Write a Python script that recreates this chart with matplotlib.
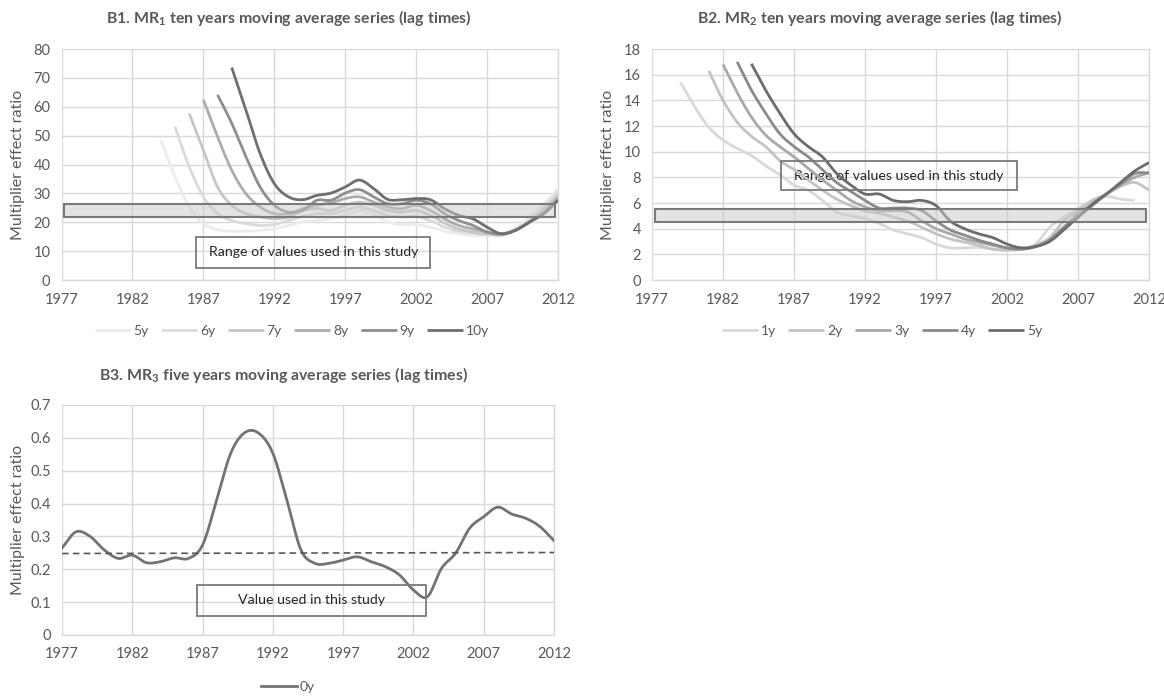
import numpy as np
import matplotlib
matplotlib.use("Agg")
import matplotlib.pyplot as plt
from matplotlib.patches import Rectangle

plt.rcParams['font.family'] = ['Lato', 'DejaVu Sans']
plt.rcParams['mathtext.fontset'] = 'custom'
plt.rcParams['mathtext.rm'] = 'Lato'
plt.rcParams['mathtext.bf'] = 'Lato:bold'
plt.rcParams['mathtext.it'] = 'Lato:italic'

# ---------------- data ----------------
years = list(range(1977, 2013))

# B1: MR1 ten-year moving average series (lag times); each starts later
b1_5y_start, b1_5y = 1984, [48.5, 35.7, 25.3, 19.5, 17.4, 16.9, 16.9, 17.2, 17.7, 18.9, 20.1, 20.6, 21.2,
                            22.4, 24.1, 23.0, 20.1, 19.2, 19.2, 18.3, 16.9, 16.0, 15.4, 15.4, 16.0, 18.1,
                            21.8, 26.4, 31.7]
b1_6y_start, b1_6y = 1985, [53.1, 39.2, 28.8, 23.0, 20.6, 19.5, 18.9, 19.2, 20.6, 22.0, 23.0, 23.0, 24.1,
                            25.3, 24.1, 22.4, 21.8, 22.0, 20.6, 18.3, 16.9, 16.2, 15.8, 15.4, 17.4, 20.6,
                            25.3, 30.5]
b1_7y_start, b1_7y = 1986, [57.7, 45.0, 32.2, 25.9, 23.0, 21.8, 21.2, 21.8, 24.1, 24.7, 24.1, 25.9, 27.0,
                            25.9, 24.1, 23.5, 24.1, 22.4, 19.7, 17.7, 16.6, 16.0, 15.8, 17.4, 20.4, 24.3,
                            29.3]
b1_8y_start, b1_8y = 1987, [62.4, 49.6, 38.0, 29.9, 25.3, 23.0, 23.0, 24.7, 25.9, 26.7, 28.2, 28.8, 27.0,
                            25.3, 24.7, 25.9, 24.1, 21.2, 18.9, 17.7, 16.6, 15.8, 17.2, 20.1, 23.5, 28.2]
b1_9y_start, b1_9y = 1988, [64.1, 54.3, 42.7, 32.2, 25.9, 23.5, 24.1, 27.6, 27.6, 30.1, 31.3, 28.8, 26.4,
                            26.4, 27.6, 26.4, 23.0, 20.6, 18.9, 16.6, 16.0, 17.2, 20.1, 23.0, 27.6]
b1_10y_start, b1_10y = 1989, [73.6, 58.9, 43.8, 33.4, 28.8, 27.8, 29.3, 30.1, 32.2, 34.6, 31.7, 27.9, 27.8,
                              28.2, 27.8, 24.7, 22.4, 21.2, 18.3, 16.0, 17.2, 20.1, 23.0, 27.6]
b1_labels = ['5y', '6y', '7y', '8y', '9y', '10y']
b1_band = (21.8, 26.3)

# B2: MR2 ten-year moving average series (lag times)
b2_1y_start, b2_1y = 1979, [15.4, 13.5, 11.9, 10.9, 10.25, 9.7, 8.9, 8.2, 7.4, 7.0, 6.2, 5.3, 5.0, 4.8,
                            4.4, 3.9, 3.6, 3.3, 2.8, 2.5, 2.5, 2.55, 2.4, 2.3, 2.4, 2.8, 4.1, 4.9, 5.6,
                            6.1, 6.5, 6.3, 6.2]
b2_2y_start, b2_2y = 1981, [16.3, 14.0, 12.3, 11.2, 10.4, 9.3, 8.6, 7.8, 7.0, 6.3, 5.8, 5.4, 5.2, 4.9,
                            4.6, 4.1, 3.6, 3.2, 2.95, 2.7, 2.4, 2.35, 2.4, 2.7, 3.3, 4.6, 5.4, 6.2, 6.7,
                            7.3, 7.6, 7.0]
b2_3y_start, b2_3y = 1982, [16.8, 14.6, 12.7, 11.3, 10.4, 9.6, 8.7, 7.8, 7.0, 6.2, 5.7, 5.4, 5.4, 5.3,
                            4.6, 4.0, 3.6, 3.2, 2.95, 2.7, 2.5, 2.5, 2.6, 3.1, 4.1, 5.2, 5.9, 6.7, 7.4,
                            8.0, 8.35]
b2_4y_start, b2_4y = 1983, [17.0, 14.8, 13.0, 11.4, 10.4, 9.6, 8.6, 7.6, 6.9, 6.2, 5.6, 5.6, 5.6, 5.4,
                            4.6, 3.9, 3.5, 3.1, 2.8, 2.5, 2.4, 2.6, 3.1, 4.1, 4.9, 5.8, 6.7, 7.5, 8.3,
                            8.35]
b2_5y_start, b2_5y = 1984, [16.85, 14.8, 13.0, 11.4, 10.4, 9.6, 8.3, 7.4, 6.7, 6.7, 6.2, 6.1, 6.2, 5.8,
                            4.6, 4.0, 3.6, 3.3, 2.8, 2.5, 2.6, 3.0, 3.9, 4.9, 5.9, 6.7, 7.6, 8.5, 9.15]
b2_labels = ['1y', '2y', '3y', '4y', '5y']
b2_band = (4.5, 5.56)

# B3: MR3 five-year moving average series
b3_0y = [0.265, 0.314, 0.300, 0.259, 0.233, 0.243, 0.220, 0.223, 0.235, 0.233, 0.274, 0.410,
         0.553, 0.616, 0.614, 0.553, 0.410, 0.259, 0.218, 0.218, 0.228, 0.238, 0.223, 0.208,
         0.183, 0.137, 0.117, 0.203, 0.249, 0.325, 0.360, 0.389, 0.368, 0.355, 0.330, 0.287]
b3_ref_years = [1977, 2012]
b3_ref_vals = [0.248, 0.251]

# ---------------- styling ----------------
W, H = 1164, 696
fig = plt.figure(figsize=(W / 100, H / 100), dpi=100)
fig.patch.set_facecolor('white')

TXT = '#595959'
GRID = '#d9d9d9'
BOXTXT = '#262626'


def px_axes(l, t, r, b):
    return fig.add_axes([l / W, 1 - b / H, (r - l) / W, (b - t) / H])


def smooth(x, y, n=12):
    """Catmull-Rom rendering through the data points (like Excel's smoothed line)."""
    x = np.asarray(x, float)
    y = np.asarray(y, float)
    if len(x) < 3:
        return x, y
    P = np.column_stack([x, y])
    P = np.vstack([2 * P[0] - P[1], P, 2 * P[-1] - P[-2]])
    out = []
    t = np.linspace(0, 1, n, endpoint=False)
    for i in range(1, len(P) - 2):
        p0, p1, p2, p3 = P[i - 1], P[i], P[i + 1], P[i + 2]
        tt = t[:, None]
        seg = 0.5 * ((2 * p1) + (-p0 + p2) * tt + (2 * p0 - 5 * p1 + 4 * p2 - p3) * tt ** 2
                     + (-p0 + 3 * p1 - 3 * p2 + p3) * tt ** 3)
        out.append(seg)
    out.append(P[-2][None, :])
    out = np.vstack(out)
    return out[:, 0], out[:, 1]


def style_axes(ax, ymax, ystep, ylabel_x):
    ax.set_xlim(1977, 2012)
    ax.set_ylim(0, ymax)
    ax.set_xticks(range(1977, 2013, 5))
    ax.set_yticks(np.round(np.arange(0, ymax + ystep / 2, ystep), 3))
    ax.grid(True, color=GRID, linewidth=1.0, zorder=0)
    ax.set_axisbelow(True)
    for s in ['top', 'left']:
        ax.spines[s].set_visible(False)
    ax.spines['right'].set_color(GRID)
    ax.spines['bottom'].set_color(GRID)
    ax.spines['right'].set_linewidth(1.0)
    ax.spines['bottom'].set_linewidth(1.0)
    ax.tick_params(length=0, colors=TXT, labelsize=10.5)
    ax.tick_params(axis='y', pad=8)
    ax.tick_params(axis='x', pad=9)
    ax.set_ylabel('Multiplier effect ratio', color=TXT, fontsize=11.5)
    ax.yaxis.set_label_coords(ylabel_x, 0.5)


# ---------------- B1 ----------------
ax1 = px_axes(61.5, 49, 558, 280)
style_axes(ax1, 80, 10, -0.074)
b1_series = [(b1_5y_start, b1_5y), (b1_6y_start, b1_6y), (b1_7y_start, b1_7y),
             (b1_8y_start, b1_8y), (b1_9y_start, b1_9y), (b1_10y_start, b1_10y)]
b1_colors = ['#ececec', '#dadada', '#c6c6c6', '#acacac', '#8e8e8e', '#6f6f6f']
h1 = []
for (st, vals), c, lab in zip(b1_series, b1_colors, b1_labels):
    xs = list(range(st, st + len(vals)))
    sx, sy = smooth(xs, vals)
    ln, = ax1.plot(sx, sy, color=c, lw=2.0, label=lab, zorder=3, solid_capstyle='butt')
    h1.append(ln)
ax1.add_patch(Rectangle((1977.2, b1_band[0]), 2011.8 - 1977.2, b1_band[1] - b1_band[0],
                        facecolor='#c8c8c8', alpha=0.5, edgecolor='none', zorder=4))
ax1.add_patch(Rectangle((1977.2, b1_band[0]), 2011.8 - 1977.2, b1_band[1] - b1_band[0],
                        facecolor='none', edgecolor='#7a7a7a', lw=1.5, zorder=5))
ax1.add_patch(Rectangle((1986.5, 4.2), 2003.0 - 1986.5, 14.9 - 4.2,
                        facecolor='none', edgecolor='#7a7a7a', lw=1.3, zorder=5))
ax1.text((1986.5 + 2003.0) / 2, (4.2 + 14.9) / 2, 'Range of values used in this study',
         ha='center', va='center', fontsize=10.2, color=BOXTXT, zorder=6)
fig.text(289 / W, 1 - 18 / H, r'B1. MR$_{\mathbf{1}}$ ten years moving average series (lag times)',
         ha='center', va='center', fontsize=11.4, fontweight='bold', color=TXT)
fig.legend(handles=h1, loc='center', bbox_to_anchor=(292 / W, 1 - 331 / H), ncol=6,
           frameon=False, fontsize=10, labelcolor=TXT, handlelength=2.6, handletextpad=0.2,
           columnspacing=0.9)

# ---------------- B2 ----------------
ax2 = px_axes(652, 49, 1149, 280)
style_axes(ax2, 18, 2, -0.074)
b2_series = [(b2_1y_start, b2_1y), (b2_2y_start, b2_2y), (b2_3y_start, b2_3y),
             (b2_4y_start, b2_4y), (b2_5y_start, b2_5y)]
b2_colors = ['#d9d9d9', '#c3c3c3', '#a9a9a9', '#8a8a8a', '#6c6c6c']
h2 = []
for (st, vals), c, lab in zip(b2_series, b2_colors, b2_labels):
    xs = list(range(st, st + len(vals)))
    sx, sy = smooth(xs, vals)
    ln, = ax2.plot(sx, sy, color=c, lw=2.0, label=lab, zorder=3, solid_capstyle='butt')
    h2.append(ln)
ax2.add_patch(Rectangle((1977.2, b2_band[0]), 2011.8 - 1977.2, b2_band[1] - b2_band[0],
                        facecolor='#c8c8c8', alpha=0.5, edgecolor='none', zorder=4))
ax2.add_patch(Rectangle((1977.2, b2_band[0]), 2011.8 - 1977.2, b2_band[1] - b2_band[0],
                        facecolor='none', edgecolor='#7a7a7a', lw=1.5, zorder=5))
ax2.add_patch(Rectangle((1986.1, 7.0), 2002.7 - 1986.1, 9.27 - 7.0,
                        facecolor='none', edgecolor='#7a7a7a', lw=1.3, zorder=5))
ax2.text((1986.1 + 2002.7) / 2, (7.0 + 9.27) / 2, 'Range of values used in this study',
         ha='center', va='center', fontsize=10.2, color=BOXTXT, zorder=2)
fig.text(880 / W, 1 - 18 / H, r'B2. MR$_{\mathbf{2}}$ ten years moving average series (lag times)',
         ha='center', va='center', fontsize=11.4, fontweight='bold', color=TXT)
fig.legend(handles=h2, loc='center', bbox_to_anchor=(882 / W, 1 - 331 / H), ncol=5,
           frameon=False, fontsize=10, labelcolor=TXT, handlelength=2.6, handletextpad=0.2,
           columnspacing=0.9)

# ---------------- B3 ----------------
ax3 = px_axes(62, 405, 554, 635)
style_axes(ax3, 0.7, 0.1, -0.075)
ax3.set_yticklabels(['0', '0.1', '0.2', '0.3', '0.4', '0.5', '0.6', '0.7'])
sx, sy = smooth(years, b3_0y)
h3, = ax3.plot(sx, sy, color='#737373', lw=2.0, label='0y', zorder=3)
ax3.plot(b3_ref_years, b3_ref_vals, color='#595959', lw=1.2, ls=(0, (4, 2.5)), zorder=3)
ax3.add_patch(Rectangle((1986.6, 0.058), 2002.9 - 1986.6, 0.152 - 0.058,
                        facecolor='none', edgecolor='#7a7a7a', lw=1.3, zorder=5))
ax3.text((1986.6 + 2002.9) / 2, (0.058 + 0.152) / 2, 'Value used in this study',
         ha='center', va='center', fontsize=10.2, color=BOXTXT, zorder=6)
fig.text(283 / W, 1 - 375 / H, r'B3. MR$_{\mathbf{3}}$ five years moving average series (lag times)',
         ha='center', va='center', fontsize=11.4, fontweight='bold', color=TXT)
fig.legend(handles=[h3], loc='center', bbox_to_anchor=(288 / W, 1 - 687 / H), ncol=1,
           frameon=False, fontsize=10, labelcolor=TXT, handlelength=2.6, handletextpad=0.2)

fig.savefig('out.png', dpi=100, facecolor='white')
